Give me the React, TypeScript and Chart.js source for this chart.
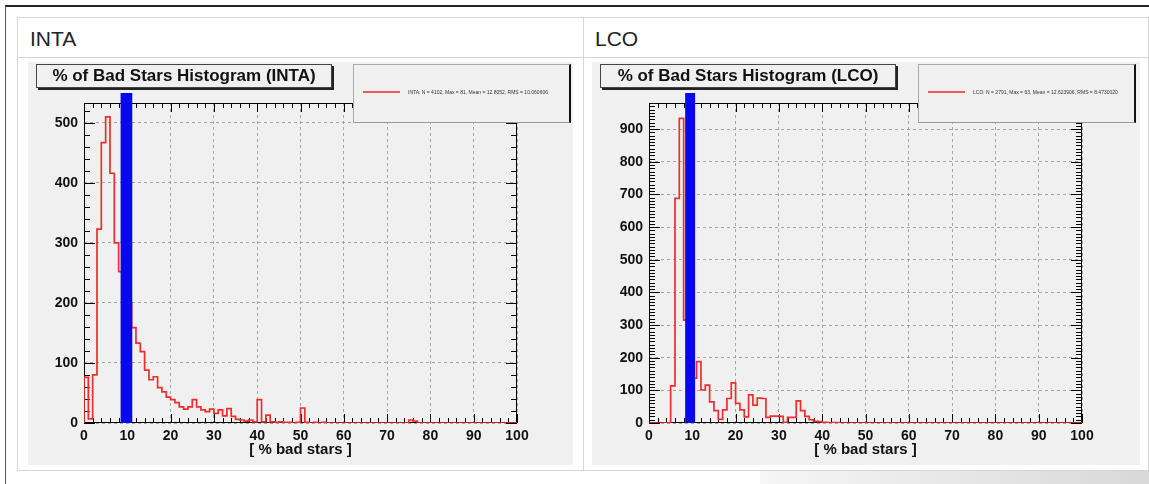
import React, { useEffect, useRef } from 'react';
import { Chart, registerables } from 'chart.js';

Chart.register(...registerables);

// ---- data (counts per 1%-wide bin, bins 0..99) ----
const intaCounts = [
  76, 7, 80, 323, 467, 510, 416, 300, 252, 225,
  200, 159, 133, 119, 88, 72, 77, 59, 52, 43,
  39, 34, 27, 23, 27, 39, 27, 22, 19, 23,
  16, 22, 12, 24, 11, 6, 5, 3, 5, 2,
  39, 2, 13, 2, 1, 2, 1, 1, 0, 1,
  25, 1, 0, 1, 0, 1, 0, 0, 0, 0,
  0, 0, 0, 0, 0, 0, 0, 0, 0, 0,
  0, 0, 0, 0, 0, 5, 3, 0, 0, 0,
  0, 0, 0, 0, 0, 0, 0, 0, 0, 0,
  0, 0, 0, 0, 0, 0, 0, 0, 0, 0,
];

const lcoCounts = [
  0, 0, 0, 0, 0, 114, 688, 933, 315, 250,
  137, 188, 101, 116, 65, 38, 11, 40, 75, 123,
  60, 40, 19, 86, 55, 76, 75, 17, 21, 21,
  20, 2, 17, 17, 68, 38, 20, 10, 5, 4,
  2, 1, 1, 1, 0, 0, 0, 0, 0, 0,
  0, 0, 0, 0, 0, 0, 0, 0, 0, 0,
  0, 0, 0, 0, 0, 0, 0, 0, 0, 0,
  0, 0, 0, 0, 0, 0, 0, 0, 0, 0,
  0, 0, 0, 0, 0, 0, 0, 0, 0, 0,
  0, 0, 0, 0, 0, 0, 0, 0, 0, 0,
];

const xTickLabels = [0, 10, 20, 30, 40, 50, 60, 70, 80, 90, 100];
const intaYTicks = [0, 100, 200, 300, 400, 500];
const lcoYTicks = [0, 100, 200, 300, 400, 500, 600, 700, 800, 900];
const intaYMax = 533;
const lcoYMax = 980;

// threshold marker (blue band) [centre, width] in % units
const intaThreshold = [9.8, 2.7];
const lcoThreshold = [9.5, 2.3];

const xTitle = '[ % bad stars ]';
const intaTitle = '% of Bad Stars Histogram (INTA)';
const lcoTitle = '% of Bad Stars Histogram (LCO)';
const intaStats = 'INTA: N = 4102, Max = 81, Mean = 12.8052, RMS = 10.060606';
const lcoStats = 'LCO: N = 2791, Max = 63, Mean = 12.623906, RMS = 8.4730020';

const FONT = '"Liberation Sans", Arial, Helvetica, sans-serif';
const PANEL_BG = '#f0f0f0';

function makeInnerTicks(xMinor: number, yMinor: number) {
  return {
    id: 'innerTicks',
    beforeDatasetsDraw(chart: any) {
      const { ctx, chartArea: a, scales } = chart;
      const x = scales.x, y = scales.y;
      ctx.save();
      ctx.strokeStyle = '#000';
      ctx.lineWidth = 1;
      ctx.beginPath();
      for (let v = x.min; v <= x.max + 1e-9; v += xMinor) {
        const px = Math.round(x.getPixelForValue(v)) + 0.5;
        const major = Math.abs(v % 10) < 1e-6;
        const len = major ? 9 : 5;
        ctx.moveTo(px, a.bottom);
        ctx.lineTo(px, a.bottom - len);
        ctx.moveTo(px, a.top);
        ctx.lineTo(px, a.top + len);
      }
      for (let v = 0; v <= y.max + 1e-9; v += yMinor) {
        const py = Math.round(y.getPixelForValue(v)) + 0.5;
        const major = Math.abs(v % 100) < 1e-6;
        const len = major ? 11 : 6;
        ctx.moveTo(a.left, py);
        ctx.lineTo(a.left + len, py);
        ctx.moveTo(a.right, py);
        ctx.lineTo(a.right - len, py);
      }
      ctx.stroke();
      ctx.strokeRect(Math.round(a.left) + 0.5, Math.round(a.top) + 0.5,
        Math.round(a.width) - 1, Math.round(a.height) - 1);
      ctx.restore();
    },
  };
}

function makeBand(threshold: number[]) {
  return {
    id: 'thresholdBand',
    afterDatasetsDraw(chart: any) {
      const { ctx, chartArea: a, scales } = chart;
      const x = scales.x;
      const l = x.getPixelForValue(threshold[0] - threshold[1] / 2);
      const r = x.getPixelForValue(threshold[0] + threshold[1] / 2);
      ctx.save();
      ctx.fillStyle = 'rgb(8,8,232)';
      ctx.fillRect(l, a.top - 10, r - l, a.bottom - a.top + 10);
      ctx.restore();
    },
  };
}

function Hist(props: {
  counts: number[]; yTicks: number[]; yMax: number; threshold: number[];
  yMinor: number; width: number; height: number; left: number;
}) {
  const ref = useRef<HTMLCanvasElement | null>(null);
  useEffect(() => {
    if (!ref.current) return;
    const pts = [{ x: 0, y: 0 }];
    props.counts.forEach((c, i) => pts.push({ x: i, y: c }));
    pts.push({ x: props.counts.length, y: props.counts[props.counts.length - 1] });
    pts.push({ x: props.counts.length, y: 0 });
    const tickFont = { family: FONT, size: 14, weight: 'bold' as const };
    const gridColor = 'rgba(140,140,140,0.75)';
    const chart = new Chart(ref.current, {
      type: 'line',
      data: {
        datasets: [{
          data: pts,
          stepped: 'before',
          borderColor: 'rgb(238,45,45)',
          borderWidth: 1.7,
          pointRadius: 0,
          fill: false,
        }],
      },
      options: {
        animation: false,
        responsive: false,
        maintainAspectRatio: false,
        layout: { padding: { top: 41, right: props.width - props.left - 433, left: 0, bottom: 0 } },
        plugins: { legend: { display: false }, tooltip: { enabled: false }, title: { display: false } },
        scales: {
          x: {
            type: 'linear', min: 0, max: 100,
            afterBuildTicks: (s: any) => { s.ticks = xTickLabels.map((v) => ({ value: v })); },
            afterFit: (s: any) => { s.height = 42; },
            grid: { color: gridColor, drawTicks: false, lineWidth: 1 },
            border: { display: false, dash: [3, 3] },
            ticks: { padding: 5, color: '#111', font: tickFont, maxRotation: 0, autoSkip: false },
            title: { display: true, text: xTitle, color: '#111', font: { family: FONT, size: 15, weight: 'bold' }, padding: { top: 0, bottom: 6 } },
          },
          y: {
            type: 'linear', min: 0, max: props.yMax,
            afterBuildTicks: (s: any) => { s.ticks = props.yTicks.map((v) => ({ value: v })); },
            afterFit: (s: any) => { s.width = props.left; },
            grid: { color: gridColor, drawTicks: false, lineWidth: 1 },
            border: { display: false, dash: [3, 3] },
            ticks: { padding: 6, color: '#111', font: tickFont },
          },
        },
      },
      plugins: [makeInnerTicks(2, props.yMinor), makeBand(props.threshold)],
    } as any);
    return () => chart.destroy();
  }, []);
  return <canvas ref={ref} width={props.width} height={props.height}
    style={{ width: props.width, height: props.height, display: 'block' }} />;
}

function abs(left: number, top: number, extra: React.CSSProperties = {}): React.CSSProperties {
  return { position: 'absolute', left, top, ...extra };
}

function TitleBox({ left, text }: { left: number; text: string }) {
  return (
    <div style={abs(left, 64, {
      width: 294, height: 22, background: PANEL_BG, border: '1px solid #444',
      boxShadow: '2px 2px 0 #222', font: `bold 17px ${FONT}`, color: '#111',
      textAlign: 'center', lineHeight: '22px', whiteSpace: 'nowrap',
    })}>{text}</div>
  );
}

function StatsBox({ left, text }: { left: number; text: string }) {
  return (
    <div style={abs(left, 64, {
      width: 215, height: 57, background: PANEL_BG, borderTop: '1px solid #aaa',
      borderLeft: '1px solid #aaa', borderBottom: '1px solid #999', borderRight: '2px solid #111',
    })}>
      <div style={abs(9, 26, { width: 37, height: 2, background: 'rgb(232,90,90)' })} />
      <div style={abs(54, 24, { font: `5px ${FONT}`, color: '#333', whiteSpace: 'nowrap', lineHeight: '6px' })}>{text}</div>
    </div>
  );
}

export default function App() {
  return (
    <div style={{ position: 'absolute', left: 0, top: 0, width: 1149, height: 484, overflow: 'hidden', background: '#fff', fontFamily: FONT }}>
      <div style={abs(5, 5, { width: 1144, height: 479, borderTop: '2px solid #222', borderLeft: '1px solid #555', boxSizing: 'border-box' })} />
      <div style={abs(17, 17, { width: 1132, height: 454, border: '1px solid #d6d6d6', boxSizing: 'border-box' })} />
      <div style={abs(17, 57, { width: 1132, height: 1, background: '#d6d6d6' })} />
      <div style={abs(583, 17, { width: 1, height: 454, background: '#d6d6d6' })} />
      <div style={abs(30, 27, { font: `21px ${FONT}`, color: '#222' })}>INTA</div>
      <div style={abs(595, 27, { font: `21px ${FONT}`, color: '#222' })}>LCO</div>
      <div style={abs(760, 471, { width: 389, height: 13, background: 'linear-gradient(90deg, #f6f6f6, #d8d8d8)' })} />

      <div style={abs(28, 62, { width: 545, height: 403, background: PANEL_BG })}>
        <Hist counts={intaCounts} yTicks={intaYTicks} yMax={intaYMax} threshold={intaThreshold}
          yMinor={20} width={545} height={403} left={56} />
      </div>
      <div style={abs(592, 62, { width: 548, height: 403, background: PANEL_BG })}>
        <Hist counts={lcoCounts} yTicks={lcoYTicks} yMax={lcoYMax} threshold={lcoThreshold}
          yMinor={10} width={548} height={403} left={57} />
      </div>

      <TitleBox left={36} text={intaTitle} />
      <StatsBox left={353} text={intaStats} />
      <TitleBox left={600} text={lcoTitle} />
      <StatsBox left={918} text={lcoStats} />
    </div>
  );
}
